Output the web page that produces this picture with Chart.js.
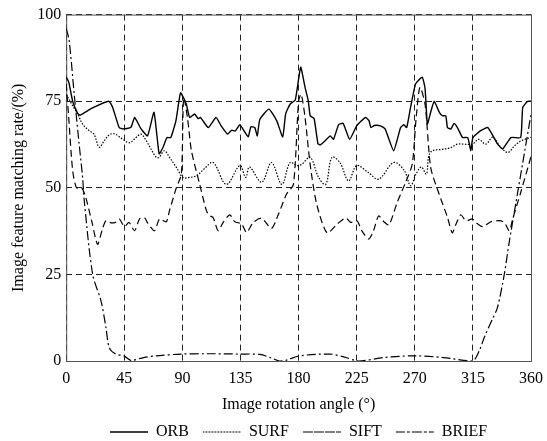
<!DOCTYPE html>
<html>
<head>
<meta charset="utf-8">
<script src="https://cdn.jsdelivr.net/npm/chart.js@4.4.0/dist/chart.umd.min.js"></script>
<style>
  html, body { margin: 0; padding: 0; background: #fff; }
  #wrap { width: 547px; height: 441px; }
</style>
</head>
<body>
<div id="wrap"><canvas id="chart" width="547" height="441"></canvas></div>
<script>
// [angle (°), matching rate (%)]
const orb = [
  [0, 82], [2, 80.5], [5, 75], [9, 71.4], [11, 71], [20, 73], [33, 75], [36, 73.2],
  [41, 67.4], [44, 67], [50, 67.4], [53, 70.3], [58, 67], [63, 65], [68, 71.8],
  [72, 59.8], [75, 61.7], [78, 64.5], [81, 64.5], [85, 69.4], [88.6, 77.4], [93, 74.2],
  [95.6, 70.3], [99.5, 71.3], [102, 70], [104, 70.3], [110, 67.4], [116, 70.3],
  [120, 67.9], [125, 65.5], [128, 66.6], [131, 66.4], [134.5, 68.2], [137.5, 66.6],
  [141, 64.7], [143, 67.6], [146, 67.4], [148, 65], [150, 69.8], [157, 72.7], [163, 69.4],
  [167.7, 64.7], [170, 71.4], [173.5, 74.2], [177.4, 75.3], [181.6, 84.8], [185, 79],
  [187.5, 75.1], [189, 70.8], [192, 70], [195, 62.7], [197, 62.4], [200.6, 63.6],
  [204.5, 65], [207, 64], [211, 68.2], [214.5, 68.6], [219.5, 64], [225, 67.9],
  [231.7, 70.3], [234.5, 69.4], [236, 67.4], [238.6, 68], [243.4, 67.9], [247, 67],
  [253.6, 60.7], [259, 67.4], [261.6, 68.2], [263.7, 67.4], [266.7, 73.2], [270.6, 80],
  [275.8, 81.9], [278, 78.5], [279.7, 68.4], [282.3, 71.8], [285, 75], [289, 71.8],
  [291.4, 70.8], [294, 70.8], [295.3, 67.4], [298, 67], [300.4, 68.6], [303, 67.4],
  [307, 64.5], [311, 64.5], [313.4, 60.7], [315, 64.5], [321, 66.5], [326.4, 67.4],
  [329, 66], [334, 62.7], [338, 61.2], [344.5, 64.5], [352, 64.5], [353.6, 73.2],
  [357.5, 75], [360, 75]
];

const surf = [
  [0, 77], [5, 73.7], [8.8, 71.4], [12.7, 68.4], [17.8, 66.5], [21.5, 65.5], [25.6, 61.7],
  [29.5, 63.6], [33.4, 65.3], [37.3, 65.6], [43.8, 64], [49, 63], [54, 64.5], [58, 65.5],
  [62, 63.6], [69.7, 58.8], [72, 58.8], [76, 60.7], [80, 58.8], [85.3, 55.9], [90.5, 53],
  [95.6, 53], [101, 53.5], [107, 55.5], [113.8, 57.3], [124, 51], [134.5, 56.4],
  [139, 53], [142, 56], [151.4, 51.6], [159, 57.3], [167, 51], [173.4, 57.3],
  [178.7, 56.4], [182.5, 56.8], [189, 58.8], [195.5, 53], [201, 51], [205.8, 58.8],
  [212, 57.3], [218.7, 52], [225, 56.4], [234, 54.4], [242, 52.5], [253.7, 57.3],
  [262, 54.9], [266.7, 50.6], [271, 54], [275, 56], [279, 54], [282, 60.2], [293, 61.2],
  [298, 61.6], [303, 62.6], [314.5, 62.6], [319.4, 64], [325, 62.6], [330.3, 64.6],
  [336, 62], [342, 60.2], [347, 62], [352, 63.5], [360, 64.6]
];

const sift = [
  [0, 80], [2, 70], [5, 55], [8, 50], [12, 50], [15.3, 47], [20, 40], [24.3, 33.7],
  [28, 38], [30.8, 40.5], [34.7, 39.9], [38, 40], [41.2, 41], [45, 38.8], [48.7, 40],
  [52.9, 37.6], [56.8, 41], [60.6, 41.4], [63, 39.9], [68.4, 37.6], [72.3, 41],
  [77.5, 40.2], [80, 43.4], [85.3, 50], [89.2, 54], [91, 76], [94, 70], [97, 60.7],
  [103.4, 51], [108.6, 43.4], [111, 42], [113.8, 41.4], [117.7, 37.6], [121.6, 40],
  [126.7, 42.2], [130.6, 40.2], [135.8, 39.6], [139.7, 37.1], [144.9, 40], [151.4, 41.2],
  [159, 38.3], [164.2, 42.2], [170.7, 48.2], [176, 51], [180, 75], [182, 77],
  [185, 70.3], [189, 56.6], [194, 45.3], [202, 37], [209.8, 39.5], [216.4, 41.3],
  [220.4, 40], [225.2, 40.5], [229, 37.6], [234.3, 35.2], [238, 37.6], [242, 41.9],
  [246, 40.2], [250, 39.3], [256.4, 45.8], [262.8, 51.5], [268, 56.8], [271, 70],
  [274, 79], [278, 74], [282.3, 55.9], [288.8, 48.2], [295.3, 41.5], [299, 37],
  [301.7, 39.3], [305.6, 42.2], [309.5, 40.5], [314.7, 41], [317.3, 40], [322.5, 38.8],
  [329, 40.2], [335.4, 40.5], [339.3, 40], [343.2, 37.6], [345.8, 41], [352.3, 49],
  [360, 59]
];

const brief = [
  [0, 96], [2.3, 92.5], [6.2, 77], [10, 62.7], [12.7, 53], [14, 46.2], [20.5, 25],
  [27, 17.3], [30.8, 9.6], [33.4, 3.8], [38, 2.1], [45, 1.4], [50, 0.2], [60, 1],
  [70, 1.5], [89, 2], [110, 2.1], [134.5, 2], [150, 1.9], [158, 1], [165, 0], [170, 0.2],
  [181, 1.5], [204.5, 2], [215, 1.2], [226.5, 0], [246, 1], [269, 1.5], [292, 1],
  [314.7, 0], [320, 3], [323.8, 6.8], [330, 12], [334, 15.4], [339.3, 25], [343, 34],
  [348, 45], [353.5, 57], [358.7, 68.4], [360, 71]
];

const xTicks = [0, 45, 90, 135, 180, 225, 270, 315, 360];
const yTicks = [0, 25, 50, 75, 100];

const serif = "'Liberation Serif', 'Times New Roman', serif";
const toPoints = (arr) => arr.map(([x, y]) => ({ x, y }));

// solid box round the plot
const frame = {
  id: "frame",
  beforeDatasetsDraw(chart) {
    const { ctx, chartArea: a } = chart;
    ctx.save();
    ctx.strokeStyle = "#555";
    ctx.lineWidth = 1;
    ctx.setLineDash([]);
    ctx.strokeRect(a.left + 0.5, a.top + 0.5, a.right - a.left, a.bottom - a.top);
    ctx.restore();
  },
};

function line(label, data, dash, width, tension) {
  return {
    label,
    data: toPoints(data),
    borderColor: "#000",
    backgroundColor: "#000",
    borderWidth: width,
    borderDash: dash,
    pointRadius: 0,
    tension,
    fill: false,
  };
}

new Chart(document.getElementById("chart"), {
  type: "line",
  data: {
    datasets: [
      line("ORB", orb, [], 1.4, 0.15),
      line("SURF", surf, [1.5, 1.5], 1.2, 0.35),
      line("SIFT", sift, [7, 4], 1.2, 0.25),
      line("BRIEF", brief, [9, 3, 2, 3], 1.2, 0.3),
    ],
  },
  options: {
    responsive: false,
    animation: false,
    layout: { padding: { top: 6, right: 7, left: 9, bottom: -9 } },
    plugins: {
      legend: {
        position: "bottom",
        fullSize: false,
        labels: {
          boxWidth: 38,
          boxHeight: 0,
          padding: 14,
          color: "#000",
          font: { family: serif, size: 16 },
        },
      },
      tooltip: { enabled: false },
    },
    scales: {
      x: {
        type: "linear",
        min: 0,
        max: 360,
        afterBuildTicks: (axis) => { axis.ticks = xTicks.map((v) => ({ value: v })); },
        afterFit: (axis) => { axis.paddingRight = 16; },
        grid: { color: "#222", lineWidth: 1, drawTicks: false },
        border: { display: false, dash: [6, 4] },
        ticks: { color: "#000", padding: 10, maxRotation: 0, font: { family: serif, size: 16, lineHeight: 1 } },
        title: {
          display: true,
          text: "Image rotation angle (°)",
          color: "#000",
          padding: { top: 0, bottom: -3 },
          font: { family: serif, size: 16, lineHeight: 1 },
        },
      },
      y: {
        min: 0,
        max: 100,
        afterBuildTicks: (axis) => { axis.ticks = yTicks.map((v) => ({ value: v })); },
        grid: { color: "#222", lineWidth: 1, drawTicks: false },
        border: { display: false, dash: [6, 4] },
        ticks: { color: "#000", padding: 5, font: { family: serif, size: 16 } },
        title: {
          display: true,
          text: "Image feature matching rate/(%)",
          color: "#000",
          padding: { top: 0, bottom: 4 },
          font: { family: serif, size: 16 },
        },
      },
    },
  },
  plugins: [frame],
});
</script>
</body>
</html>
